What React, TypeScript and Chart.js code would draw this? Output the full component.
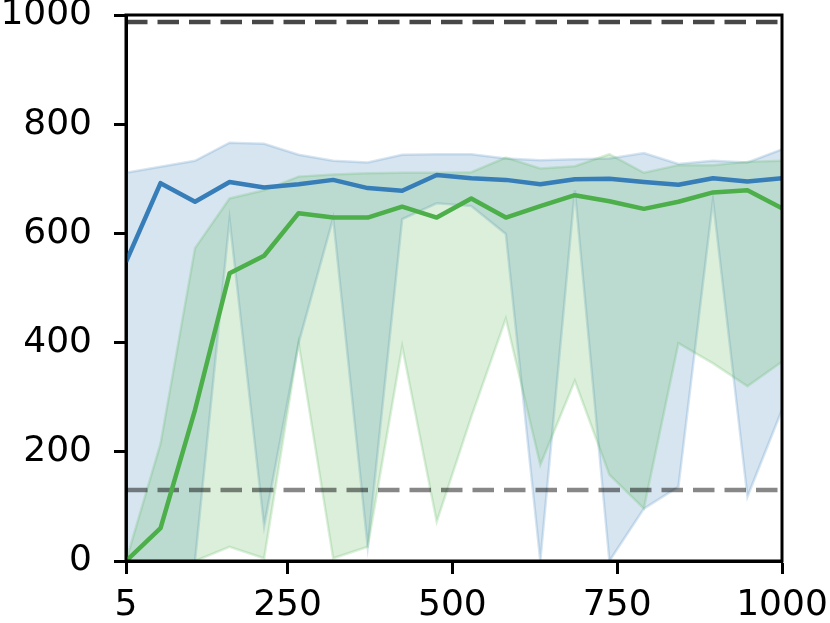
import React, { useEffect, useRef } from "react";
import { Chart, registerables } from "chart.js";

Chart.register(...registerables);

const xValues = [5, 57.4, 109.7, 162.1, 214.5, 266.8, 319.2, 371.6, 423.9, 476.3, 528.7, 581.1, 633.4, 685.8, 738.2, 790.5, 842.9, 895.3, 947.6, 1000];

const blueMean = [548, 692, 658, 694, 684, 690, 698, 683, 678, 707, 701, 698, 690, 699, 700, 694, 689, 701, 695, 701];
const blueUpper = [711, 722, 733, 766, 764, 744, 733, 730, 744, 745, 745, 737, 734, 736, 737, 747, 727, 733, 730, 754];
const blueLower = [0, 0, 0, 625, 64, 399, 628, 26, 626, 655, 650, 599, 0, 679, 0, 96, 136, 661, 118, 277];

const greenMean = [0, 60, 277, 527, 559, 637, 629, 629, 649, 629, 664, 629, 650, 670, 659, 645, 658, 675, 679, 646];
const greenUpper = [0, 215, 573, 664, 679, 704, 708, 710, 711, 711, 712, 739, 719, 723, 745, 711, 725, 725, 731, 733];
const greenLower = [0, 0, 0, 26, 5, 399, 5, 26, 393, 72, 264, 444, 176, 330, 158, 96, 399, 362, 320, 365];

const refHigh = 987;
const refLow = 130;

const xTicks = [5, 250, 500, 750, 1000];
const yTicks = [0, 200, 400, 600, 800, 1000];

const BLUE = "#377eb8";
const GREEN = "#4daf4a";

const pts = (ys: number[]) => ys.map((y, i) => ({ x: xValues[i], y }));
const hline = (v: number) => [
  { x: xValues[0], y: v },
  { x: xValues[xValues.length - 1], y: v },
];

const boxPlugin = {
  id: "boxPlugin",
  afterDraw(chart: any) {
    const { ctx, chartArea } = chart;
    ctx.save();
    ctx.strokeStyle = "#000";
    ctx.lineWidth = 3;
    ctx.strokeRect(chartArea.left, chartArea.top, chartArea.right - chartArea.left, chartArea.bottom - chartArea.top);
    ctx.restore();
  },
};

const zeroPad = (s: any) => {
  s.paddingTop = 0;
  s.paddingBottom = 0;
  s.paddingLeft = 0;
  s.paddingRight = 0;
};

export default function App() {
  const ref = useRef<HTMLCanvasElement>(null);
  useEffect(() => {
    document.body.style.margin = "0";
    Chart.defaults.font.family = "'DejaVu Sans'";
    Chart.defaults.font.size = 36;
    Chart.defaults.color = "#000";
    const common = { pointRadius: 0, tension: 0 };
    const chart = new Chart(ref.current!, {
      type: "line",
      data: {
        datasets: [
          { data: pts(blueMean), borderColor: BLUE, borderWidth: 4.5, borderJoinStyle: "round", fill: false, ...common },
          { data: pts(greenMean), borderColor: GREEN, borderWidth: 4.5, borderJoinStyle: "round", fill: false, ...common },
          { data: hline(refHigh), borderColor: "rgba(0,0,0,0.72)", borderWidth: 4.5, borderDash: [21.5, 10], fill: false, ...common },
          { data: hline(refLow), borderColor: "rgba(0,0,0,0.47)", borderWidth: 4.5, borderDash: [21.5, 10], fill: false, ...common },
          { data: pts(greenUpper), borderColor: "rgba(77,175,74,0.2)", borderWidth: 2.5, backgroundColor: "rgba(77,175,74,0.2)", fill: "+1", ...common },
          { data: pts(greenLower), borderColor: "rgba(77,175,74,0.2)", borderWidth: 2.5, fill: false, ...common },
          { data: pts(blueUpper), borderColor: "rgba(55,126,184,0.2)", borderWidth: 2.5, backgroundColor: "rgba(55,126,184,0.2)", fill: "+1", ...common },
          { data: pts(blueLower), borderColor: "rgba(55,126,184,0.2)", borderWidth: 2.5, fill: false, ...common },
        ],
      },
      options: {
        animation: false,
        responsive: false,
        devicePixelRatio: 1,
        layout: { padding: { top: 15, right: 48, left: 0, bottom: 0 } },
        plugins: { legend: { display: false }, tooltip: { enabled: false } },
        scales: {
          x: {
            type: "linear",
            min: 5,
            max: 1000,
            afterBuildTicks: (s: any) => {
              s.ticks = xTicks.map((v) => ({ value: v }));
            },
            afterFit: (s: any) => {
              s.height = 62;
              zeroPad(s);
            },
            ticks: { padding: 10, maxRotation: 0, autoSkip: false, callback: (v: any) => String(v) },
            grid: { drawOnChartArea: false, drawTicks: true, tickLength: 13, tickWidth: 3, tickColor: "#000" },
            border: { display: true, color: "#000", width: 3 },
          },
          y: {
            type: "linear",
            min: 0,
            max: 1000,
            afterBuildTicks: (s: any) => {
              s.ticks = yTicks.map((v) => ({ value: v }));
            },
            afterFit: (s: any) => {
              s.width = 126;
              zeroPad(s);
            },
            ticks: { padding: 22, autoSkip: false, callback: (v: any) => String(v) },
            grid: { drawOnChartArea: false, drawTicks: true, tickLength: 12, tickWidth: 3, tickColor: "#000" },
            border: { display: true, color: "#000", width: 3 },
          },
        },
      },
      plugins: [boxPlugin],
    });
    return () => chart.destroy();
  }, []);
  return (
    <div style={{ position: "fixed", left: 0, top: 0, width: 830, height: 623, background: "#fff" }}>
      <canvas ref={ref} width={830} height={623} />
    </div>
  );
}
